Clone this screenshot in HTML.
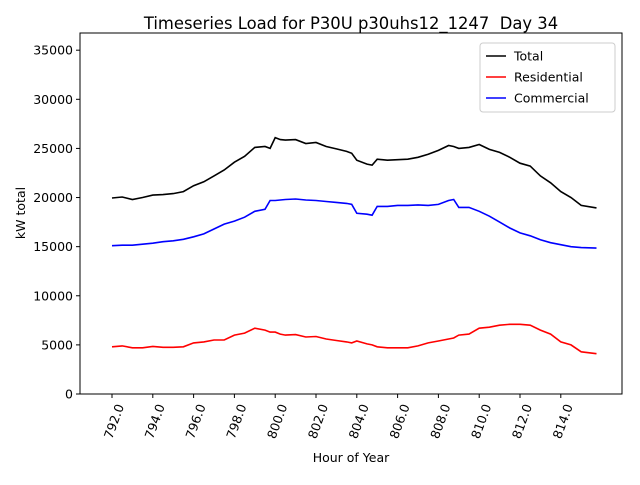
<!DOCTYPE html>
<html><head><meta charset="utf-8"><style>
body{margin:0;background:#fff}
svg text{font-family:"DejaVu Sans","Liberation Sans",sans-serif;fill:#000;white-space:pre}
</style></head><body>
<svg id="chart" width="640" height="480" xmlns="http://www.w3.org/2000/svg"></svg>
<script>
const hours=[792,792.5,793,793.5,794,794.5,795,795.5,796,796.5,797,797.5,798,798.5,799,799.5,799.75,800,800.25,800.5,801,801.5,802,802.5,803,803.5,803.75,804,804.5,804.75,805,805.5,806,806.5,807,807.5,808,808.5,808.75,809,809.5,810,810.5,811,811.5,812,812.5,813,813.5,814,814.5,815,815.75];
const totalLoad=[19950,20050,19800,20000,20250,20300,20400,20600,21200,21600,22200,22800,23600,24200,25100,25200,25000,26100,25900,25850,25900,25500,25600,25200,24950,24700,24500,23800,23400,23300,23900,23800,23850,23900,24100,24400,24800,25300,25200,25000,25100,25400,24900,24600,24100,23500,23200,22200,21500,20600,20000,19200,18950];
const residentialLoad=[4800,4900,4700,4700,4850,4750,4750,4800,5200,5300,5500,5500,6000,6200,6700,6500,6300,6300,6100,6000,6050,5800,5850,5600,5450,5300,5200,5400,5100,5000,4800,4700,4700,4700,4900,5200,5400,5600,5700,6000,6100,6700,6800,7000,7100,7100,7000,6500,6100,5300,5000,4300,4100];
const commercialLoad=[15100,15150,15150,15250,15350,15500,15600,15750,16000,16300,16800,17300,17600,18000,18600,18800,19700,19700,19750,19800,19850,19750,19700,19600,19500,19400,19300,18400,18300,18200,19100,19100,19200,19200,19250,19200,19300,19700,19800,19000,19000,18600,18100,17500,16900,16400,16100,15700,15400,15200,15000,14900,14850];
const xTicks=[792,794,796,798,800,802,804,806,808,810,812,814];
const yTicks=[0,5000,10000,15000,20000,25000,30000,35000];
const L=80,R=622,T=33,B=394;
const X=h=>112+(h-792)*20.4;
const Y=v=>B-v*(B-T)/36750;
const svg=document.getElementById('chart');
const NS='http://www.w3.org/2000/svg';
function mk(tag,attrs,txt){const e=document.createElementNS(NS,tag);for(const k in attrs)e.setAttribute(k,attrs[k]);if(txt!==undefined)e.textContent=txt;svg.appendChild(e);return e;}
let e;
e=mk('rect',{x:L,y:T,width:R-L,height:B-T,fill:'#fff',stroke:'#000','stroke-width':1});


xTicks.forEach(t=>{
  e=mk('line',{x1:X(t),x2:X(t),y1:B,y2:B+4,stroke:'#000'});
  
  
  e=mk('text',{x:0,y:0,'font-size':12.5,'text-anchor':'end',transform:`translate(${X(t)+4},${B+9}) rotate(-70)`,dy:'0.7em'},t.toFixed(1));
  
  
});
yTicks.forEach(t=>{
  e=mk('line',{x1:L-4,x2:L,y1:Y(t),y2:Y(t),stroke:'#000'});
  
  
  e=mk('text',{x:L-7,y:Y(t)+4.5,'font-size':12.5,'text-anchor':'end'},String(t));
  
  
});
function line(vals,color,name){
  const d=vals.map((v,i)=>(i?'L':'M')+X(hours[i]).toFixed(1)+','+Y(v).toFixed(1)).join('');
  const p=mk('path',{d:d,fill:'none',stroke:color,'stroke-width':1.6});
  
  
}
line(totalLoad,'#000','total-line');
line(residentialLoad,'#f00','residential-line');
line(commercialLoad,'#00f','commercial-line');
e=mk('text',{x:351,y:29,'font-size':16.4,'text-anchor':'middle'},'Timeseries Load for P30U p30uhs12_1247  Day 34');


e=mk('text',{x:351,y:462,'font-size':12.5,'text-anchor':'middle'},'Hour of Year');


e=mk('text',{x:0,y:0,'font-size':12.5,'text-anchor':'middle',transform:'translate(25,213) rotate(-90)'},'kW total');


e=mk('rect',{x:480,y:43,width:135,height:69,rx:3,fill:'#fff',stroke:'#ccc'});


[['Total','#000'],['Residential','#f00'],['Commercial','#00f']].forEach((s,i)=>{
  const y=56+i*21;
  e=mk('line',{x1:486,x2:506,y1:y,y2:y,stroke:s[1],'stroke-width':1.6});
  
  
  e=mk('text',{x:514,y:y+4.5,'font-size':12.5},s[0]);
  
  
});
</script>
</body></html>
